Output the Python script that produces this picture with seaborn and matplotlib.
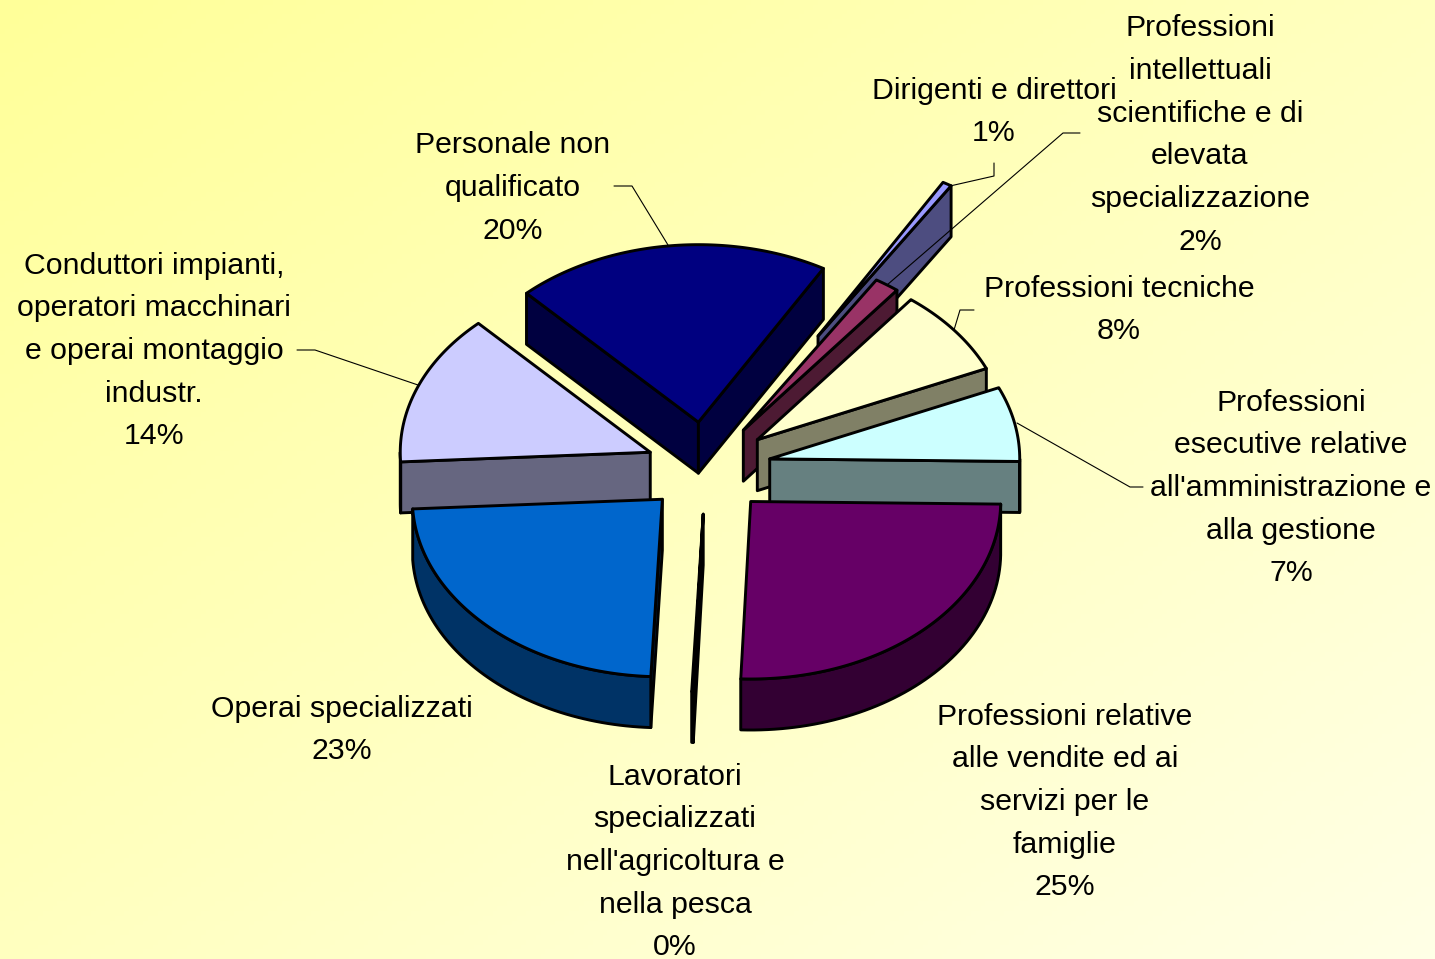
import numpy as np
import matplotlib
matplotlib.use("Agg")
import matplotlib.pyplot as plt
from matplotlib.colors import LinearSegmentedColormap
from matplotlib.patches import Polygon
import seaborn as sns

categories = [
    "Dirigenti e direttori",
    "Professioni\nintellettuali\nscientifiche e di\nelevata\nspecializzazione",
    "Professioni tecniche",
    "Professioni\nesecutive relative\nall'amministrazione e\nalla gestione",
    "Professioni relative\nalle vendite ed ai\nservizi per le\nfamiglie",
    "Lavoratori\nspecializzati\nnell'agricoltura e\nnella pesca",
    "Operai specializzati",
    "Conduttori impianti,\noperatori macchinari\ne operai montaggio\nindustr.",
    "Personale non\nqualificato",
]
values = [0.6, 1.6, 7.9, 6.8, 25.4, 0.1, 23.4, 13.8, 20.4]
top_colors = ["#9999FF", "#993366", "#FFFFCC", "#CCFFFF", "#660066",
              "#FF8080", "#0066CC", "#CCCCFF", "#000080"]
explode = [217, 65, 65, 65, 65, 65, 62, 60, 65]
label_xy = [(994, 112), (1200, 135), (1119, 310), (1291, 488), (1065, 802),
            (675, 862), (342, 730), (154, 351), (513, 188)]
leaders = [
    [(994, 163), (994, 176), (950, 186)],
    [(1080, 133), (1063, 133), (887, 285)],
    [(974, 310), (960, 310), (954, 330)],
    [(1143, 487), (1130, 487), (1017, 423)],
    [(297, 350), (315, 350), (418, 385)],
    [(614, 186), (632, 186), (668, 245)],
]
draw_order = [0, 8, 1, 2, 3, 7, 5, 6, 4]

START, CX, CY, RADIUS, SQUASH, DEPTH = 30.0, 706, 468, 250, 0.71, 51
W, H = 1435, 959

sns.set_theme(style="white")
plt.rcParams["font.family"] = ["Liberation Sans", "DejaVu Sans"]

fig = plt.figure(figsize=(W / 100, H / 100), dpi=100)
ax = fig.add_axes([0, 0, 1, 1])
cmap = LinearSegmentedColormap.from_list("bg", ["#FFFF99", "#FFFFE6"])
xx, yy = np.meshgrid(np.linspace(0, 1, 300), np.linspace(0, 1, 200))
ax.imshow((xx + yy) / 2, cmap=cmap, extent=(0, W, H, 0), aspect="auto", zorder=0)
ax.set_xlim(0, W)
ax.set_ylim(H, 0)
ax.axis("off")


def point(apex, ang, r=RADIUS):
    a = np.radians(ang)
    return np.column_stack([apex[0] + r * np.sin(a), apex[1] - SQUASH * r * np.cos(a)])


def shade(c):
    return tuple(0.5 * v for v in matplotlib.colors.to_rgb(c))


edges = START + 360 * np.cumsum([0] + values) / sum(values)
zorder = 2
for i in draw_order:
    a0, a1 = edges[i], edges[i + 1]
    mid = (a0 + a1) / 2
    apex = point((CX, CY), mid, explode[i])[0]
    col, dark = top_colors[i], shade(top_colors[i])
    kw = dict(edgecolor="black", linewidth=2.1, joinstyle="round")
    drop = np.array([0, DEPTH])
    if np.sin(np.radians(a0)) < 0:
        p = point(apex, a0)[0]
        ax.add_patch(Polygon([apex, p, p + drop, apex + drop], facecolor=dark, zorder=zorder, **kw))
    if np.sin(np.radians(a1)) > 0:
        p = point(apex, a1)[0]
        ax.add_patch(Polygon([apex, p, p + drop, apex + drop], facecolor=dark, zorder=zorder, **kw))
    lo, hi = max(a0, 90), min(a1, 270)
    if hi > lo:
        arc = point(apex, np.linspace(lo, hi, 60))
        ax.add_patch(Polygon(np.vstack([arc, arc[::-1] + drop]), facecolor=dark, zorder=zorder, **kw))
    arc = point(apex, np.linspace(a0, a1, 80))
    ax.add_patch(Polygon(np.vstack([apex, arc]), facecolor=col, zorder=zorder, **kw))
    zorder += 1

for pts in leaders:
    xs, ys = zip(*pts)
    ax.plot(xs, ys, color="black", lw=0.8, zorder=30)

for name, v, (x, y) in zip(categories, values, label_xy):
    ax.text(x, y, f"{name}\n{round(v)}%", ha="center", va="center",
            fontsize=21.8, linespacing=1.67, color="black", zorder=31)

fig.savefig("out.png", dpi=100)
